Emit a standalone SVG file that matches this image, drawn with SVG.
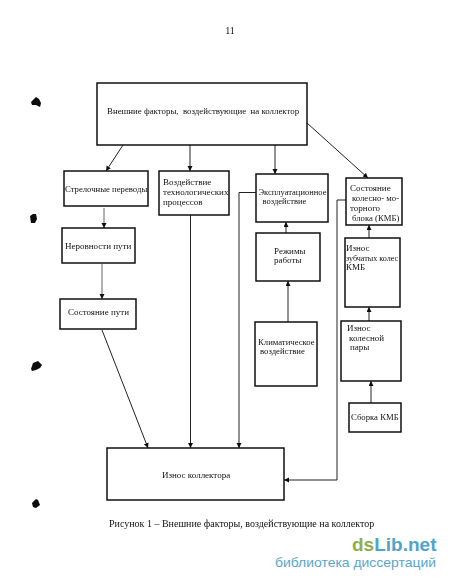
<svg xmlns="http://www.w3.org/2000/svg" width="450" height="582" viewBox="0 0 450 582">
<style>
.b{fill:#fff;stroke:#111;stroke-width:1.500}
text{font-family:"Liberation Serif","Times New Roman",serif;font-size:9px;fill:#111}
.n{font-size:8.700px}
.c{fill:none;stroke:#222;stroke-width:1}
.g{stroke:#666}
.blot{fill:#0a0a0a}
.wm1{font-family:"Liberation Sans",Arial,sans-serif;font-size:19px;font-weight:700;fill:#8fae4c}
.wm2{font-family:"Liberation Sans",Arial,sans-serif;font-size:13px;fill:#5aa6cc}
</style>
<defs>
<marker id="a" markerUnits="userSpaceOnUse" markerWidth="6" markerHeight="6" refX="5" refY="2.5" orient="auto"><path d="M0 0L5 2.5L0 5Z" fill="#111"/></marker>
<filter id="s" x="-2%" y="-2%" width="104%" height="104%"><feGaussianBlur stdDeviation="0.3"/></filter>
</defs>
<rect width="450" height="582" fill="#fff"/>
<g filter="url(#s)">
<g id="connectors">
<path class="c" marker-end="url(#a)" d="M123 145L106 171"/>
<path class="c" marker-end="url(#a)" d="M190 145V171"/>
<path class="c" marker-end="url(#a)" d="M275 145V174"/>
<path class="c" marker-end="url(#a)" d="M307 123L368 178"/>
<path class="c g" marker-end="url(#a)" d="M104 208V228"/>
<path class="c g" marker-end="url(#a)" d="M102 264V299"/>
<path class="c" marker-end="url(#a)" d="M102 330L148 448"/>
<path class="c" marker-end="url(#a)" d="M190.500 215V448"/>
<path class="c" marker-end="url(#a)" d="M256 192.500H239V448"/>
<path class="c" marker-end="url(#a)" d="M286 233V222"/>
<path class="c" marker-end="url(#a)" d="M288 322V281"/>
<path class="c" marker-end="url(#a)" d="M369 238V225"/>
<path class="c" marker-end="url(#a)" d="M369 321V307"/>
<path class="c" marker-end="url(#a)" d="M371 403V381"/>
<path class="c" marker-end="url(#a)" d="M346 200H337V480H284"/>
</g>
<g id="n-factors"><rect class="b" x="97" y="83" width="210" height="62"/><text x="107" y="114" style="font-size:8.850px;white-space:pre" xml:space="preserve">Внешние факторы,  воздействующие  на коллектор</text></g>
<g id="n-switches"><rect class="b" x="64" y="171" width="84" height="35"/><text class="n" x="65" y="192">Стрелочные переводы</text></g>
<g id="n-tech"><rect class="b" x="159" y="171" width="70" height="44"/><text x="163" y="185">Воздействие</text><text x="163" y="195">технологических</text><text x="163" y="205">процессов</text></g>
<g id="n-uneven"><rect class="b" x="62" y="228" width="73" height="35"/><text x="65" y="249">Неровности пути</text></g>
<g id="n-track"><rect class="b" x="60" y="299" width="76" height="30"/><text x="68" y="315">Состояние пути</text></g>
<g id="n-oper"><rect class="b" x="256" y="174" width="72" height="48"/><text x="258.500" y="195" style="font-size:8.500px">Эксплуатационное</text><text x="262.500" y="204" style="font-size:8.500px">воздействие</text></g>
<g id="n-modes"><rect class="b" x="256" y="233" width="64" height="48"/><text x="274" y="254">Режимы</text><text x="274" y="263">работы</text></g>
<g id="n-climate"><rect class="b" x="255" y="322" width="62" height="64"/><text class="n" x="258" y="345">Климатическое</text><text class="n" x="260" y="354">воздействие</text></g>
<g id="n-kmb"><rect class="b" x="346" y="178" width="56" height="47"/><text x="350" y="191">Состояние</text><text x="352" y="201" style="font-size:8.700px">колесно- мо-</text><text x="350" y="211">торного</text><text x="352" y="221" style="font-size:8.700px">блока (КМБ)</text></g>
<g id="n-gears"><rect class="b" x="345" y="238" width="55" height="69"/><text x="346" y="251">Износ</text><text x="346" y="261" style="font-size:8.100px">зубчатых колес</text><text x="346" y="270">КМБ</text></g>
<g id="n-wheels"><rect class="b" x="341" y="321" width="60" height="60"/><text x="347" y="331">Износ</text><text x="349" y="341">колесной</text><text x="350" y="350">пары</text></g>
<g id="n-assembly"><rect class="b" x="349" y="403" width="52" height="29"/><text class="n" x="351" y="420">Сборка КМБ</text></g>
<g id="n-wear"><rect class="b" x="107" y="448" width="177" height="52"/><text x="162" y="478">Износ коллектора</text></g>
<text x="230" y="34" text-anchor="middle" style="font-size:10px">11</text>
<text x="109" y="527" style="font-size:10px">Рисунок 1 – Внешние факторы, воздействующие на коллектор</text>
<path class="blot" d="M31 102L34 99L36 97L39 99L41 103L40 107L36 105L32 105Z"/>
<path class="blot" d="M30 216L33 214L36 214L37 219L35 223L31 223Z"/>
<path class="blot" d="M31 369L33 363L38 361L42 365L40 368L36 370L32 371Z"/>
<path class="blot" d="M32 503L36 499L38 500L40 505L36 508L33 507Z"/>
</g>
<g id="watermark">
<text class="wm1" x="352" y="551">ds<tspan style="fill:#4fa5c9">Lib.net</tspan></text>
<text class="wm2" x="275" y="567" textLength="161" lengthAdjust="spacingAndGlyphs">библиотека диссертаций</text>
</g>
</svg>
